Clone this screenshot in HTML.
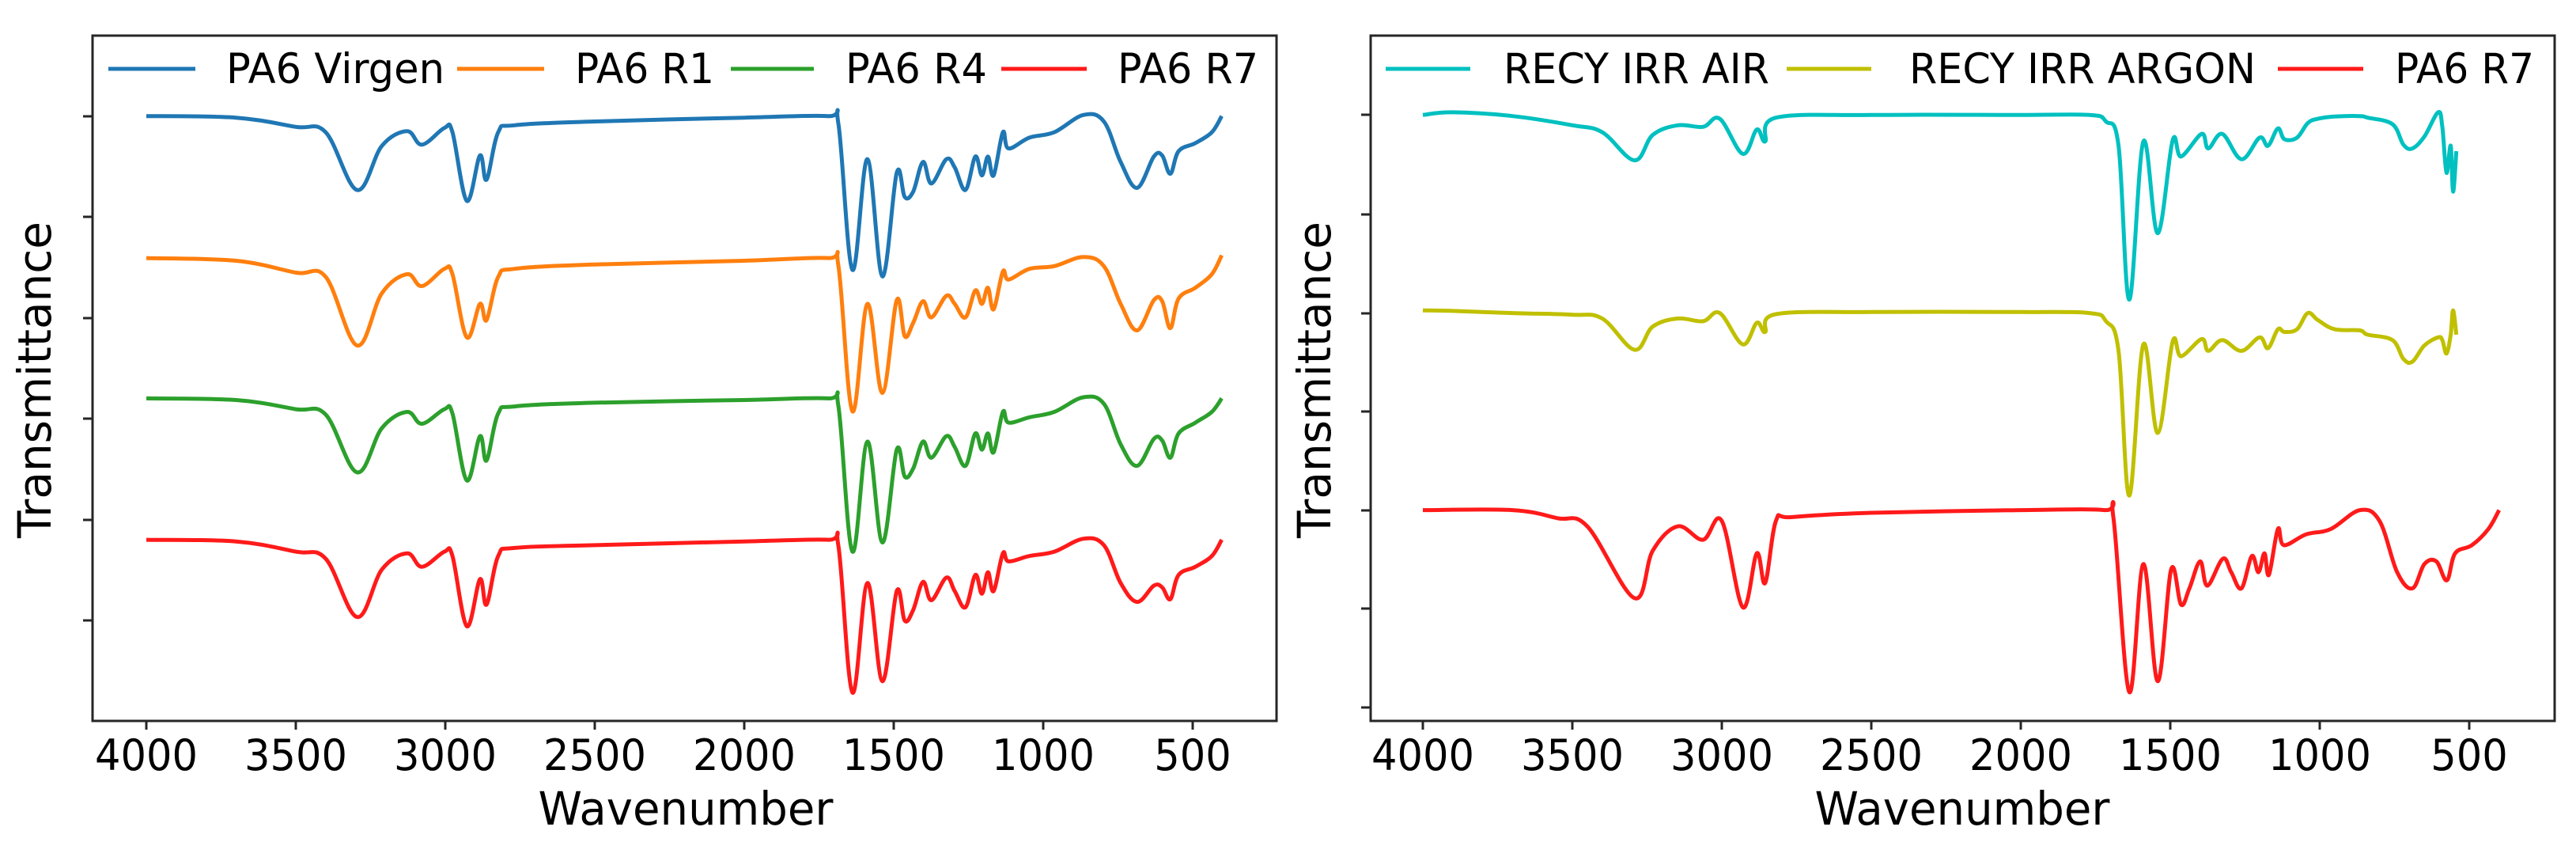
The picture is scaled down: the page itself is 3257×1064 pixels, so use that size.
<!DOCTYPE html>
<html><head><meta charset="utf-8"><style>
html,body{margin:0;padding:0;background:#fff;}
svg{display:block;}
text{font-family:"DejaVu Sans","Liberation Sans",sans-serif;fill:#000;}
</style></head><body>
<svg id="chart" width="3257" height="1064" viewBox="0 0 3257 1064" xmlns="http://www.w3.org/2000/svg"></svg>
<script>
// ---------- data ----------
const xTicks = [4000, 3500, 3000, 2500, 2000, 1500, 1000, 500];
const leftNames = ["PA6 Virgen", "PA6 R1", "PA6 R4", "PA6 R7"];
const rightNames = ["RECY IRR AIR", "RECY IRR ARGON", "PA6 R7"];
const leftWn = [4000,3700,3500,3400,3295,3212,3128,3078,3003,2976,2928,2884,2862,2823,2768,2500,2000,1720,1685,1638,1588,1538,1490,1463,1435,1402,1374,1324,1296,1260,1227,1205,1185,1166,1135,1116,1046,963,866,797,741,686,630,602,575,547,491,436,403];
const virgenAbs = [0,3,20,30,137,55,28,53,22,30,157,73,118,30,17,10,3,0,15,285,80,297,105,150,140,85,125,80,95,137,75,110,75,110,30,60,40,30,-2,10,85,133,75,73,107,65,50,30,0];
const r1Abs = [0,5,27,35,162,65,30,52,20,30,147,85,115,35,20,12,5,0,15,284,85,250,78,145,120,80,110,70,85,110,60,85,55,95,25,40,20,15,-2,15,85,134,78,80,130,75,55,30,-5];
const r4Abs = [0,3,20,30,137,55,25,47,20,28,152,70,115,28,15,8,3,0,15,284,80,267,95,145,130,80,110,70,90,125,65,95,65,100,25,45,35,25,-2,10,85,125,75,78,110,65,45,25,0];
const r7LeftAbs = [0,3,22,35,143,55,25,50,22,30,160,73,120,30,15,10,3,0,12,283,80,262,95,150,130,78,112,70,95,125,65,100,60,95,25,40,30,22,-2,10,80,115,85,88,110,65,50,30,0];
const leftOffsets = [0, 263, 523, 785];
const rightWn = [4000,3900,3700,3500,3400,3292,3231,3147,3063,3007,2930,2883,2855,2819,2500,2000,1770,1715,1673,1637,1590,1542,1492,1464,1395,1373,1326,1262,1201,1173,1140,1118,1076,1040,1006,950,866,840,757,720,690,650,604,590,576,562,554,543];
const airAbs = [0,-5,2,19,32,84,37,19,22,7,72,27,49,5,0,0,0,12,57,342,49,219,47,77,35,62,35,82,42,57,25,45,42,15,7,3,2,5,17,55,62,40,-5,22,107,57,142,67];
const argonAbs = [-3,-2,2,5,12,70,27,12,17,2,60,20,37,4,0,0,2,17,72,340,60,224,55,82,50,72,52,72,47,67,32,37,32,2,15,32,34,42,52,87,92,62,47,52,77,42,-3,42];
const r7RightWn = [4000,3700,3550,3450,3292,3231,3147,3063,3000,2930,2883,2855,2819,2768,2500,2000,1720,1690,1637,1590,1542,1497,1464,1436,1400,1376,1324,1296,1262,1227,1205,1185,1170,1140,1120,1046,963,866,800,741,690,650,610,575,547,491,436,400];
const r7RightAbs = [0,0,15,30,163,75,30,55,20,180,80,135,20,13,5,0,0,15,337,100,317,110,175,145,95,140,90,115,145,85,115,80,120,35,65,45,35,0,20,115,145,100,95,130,80,65,35,0];
const rightOffsets = [0, 365, 732];

// ---------- helpers ----------
const NS = "http://www.w3.org/2000/svg";
const svg = document.getElementById("chart");
function mk(tag, attrs, parent) {
  const e = document.createElementNS(NS, tag);
  for (const k in attrs) e.setAttribute(k, attrs[k]);
  (parent || svg).appendChild(e);
  return e;
}
function smoothPath(pts) {
  let d = "M" + pts[0][0].toFixed(1) + "," + pts[0][1].toFixed(1);
  const t = 0.35;
  for (let i = 0; i < pts.length - 1; i++) {
    const p0 = pts[Math.max(0, i - 1)], p1 = pts[i], p2 = pts[i + 1], p3 = pts[Math.min(pts.length - 1, i + 2)];
    const c1x = p1[0] + (p2[0] - p0[0]) * t / 2, c1y = p1[1] + (p2[1] - p0[1]) * t / 2;
    const c2x = p2[0] - (p3[0] - p1[0]) * t / 2, c2y = p2[1] - (p3[1] - p1[1]) * t / 2;
    d += "C" + c1x.toFixed(1) + "," + c1y.toFixed(1) + " " + c2x.toFixed(1) + "," + c2y.toFixed(1) + " " + p2[0].toFixed(1) + "," + p2[1].toFixed(1);
  }
  return d;
}
function panel(cfg) {
  const g = mk("g", {});
  
  
  const xS = wn => cfg.x4000 + (4000 - wn) * 0.378;
  const yS = v => (cfg.base - v) / 1.466; // v = -(abs + offset)
  cfg.series.forEach((s, i) => {
    const pts = s.wn.map((w, j) => [xS(w), yS(-(s.abs[j] + cfg.offsets[i]))]);
    const p = mk("path", {d: smoothPath(pts), fill: "none", stroke: s.color, "stroke-width": 5, "stroke-linejoin": "round"}, g);
    
    
  });
  const fr = mk("rect", {x: cfg.fx0, y: 45, width: cfg.fx1 - cfg.fx0, height: 911 - 45, fill: "none", stroke: "#262626", "stroke-width": 3}, g);
  
  
  cfg.yTicks.forEach(ty => {
    const t = mk("line", {x1: cfg.fx0 - 12, x2: cfg.fx0, y1: ty, y2: ty, stroke: "#262626", "stroke-width": 3}, g);
    
    
  });
  xTicks.forEach(v => {
    const x = xS(v);
    const t = mk("line", {x1: x, x2: x, y1: 911, y2: 922, stroke: "#262626", "stroke-width": 3}, g);
    
    
    const lab = mk("text", {x: x, y: 973, "text-anchor": "middle", "font-size": 54, textLength: String(v).length * 32.5, lengthAdjust: "spacingAndGlyphs"}, g);
    lab.textContent = v;
    
    
  });
  const xl = mk("text", {x: cfg.xlabelX, y: 1042, "text-anchor": "middle", "font-size": 58, textLength: 373, lengthAdjust: "spacingAndGlyphs"}, g);
  xl.textContent = "Wavenumber";
  
  
  const yl = mk("text", {x: 0, y: 0, "text-anchor": "middle", "font-size": 58, textLength: 400, lengthAdjust: "spacingAndGlyphs", transform: "translate(" + cfg.ylabelX + ",480) rotate(-90)"}, g);
  yl.textContent = "Transmittance";
  
  
  const lg = mk("g", {}, g);
  
  
  cfg.legend.forEach((e, i) => {
    const ent = mk("g", {}, lg);
    
    
    mk("line", {x1: e.l0, x2: e.l1, y1: 87, y2: 87, stroke: cfg.series[i].color, "stroke-width": 5}, ent);
    const t = mk("text", {x: e.t0, y: 105, "font-size": 53, textLength: e.t1 - e.t0, lengthAdjust: "spacingAndGlyphs"}, ent);
    t.textContent = cfg.names[i];
  });
}
panel({
  name: "left-panel", x4000: 185, base: 215, fx0: 117, fx1: 1614, xlabelX: 867, ylabelX: 64,
  offsets: leftOffsets, names: leftNames,
  yTicks: [147, 274, 402, 529, 657, 784],
  series: [
    {key: "pa6-virgen", color: "#1f77b4", wn: leftWn, abs: virgenAbs},
    {key: "pa6-r1", color: "#ff7f0e", wn: leftWn, abs: r1Abs},
    {key: "pa6-r4", color: "#2ca02c", wn: leftWn, abs: r4Abs},
    {key: "pa6-r7", color: "#ff1a1a", wn: leftWn, abs: r7LeftAbs}
  ],
  legend: [{l0:137,l1:247,t0:286,t1:562},{l0:578,l1:688,t0:727,t1:903},{l0:924,l1:1029,t0:1069,t1:1248},{l0:1266,l1:1374,t0:1413,t1:1591}]
});
panel({
  name: "right-panel", x4000: 1799, base: 213, fx0: 1733, fx1: 3230, xlabelX: 2481, ylabelX: 1682,
  offsets: rightOffsets, names: rightNames,
  yTicks: [145, 271, 396, 520, 645, 769, 894],
  series: [
    {key: "recy-irr-air", color: "#00c0c0", wn: rightWn, abs: airAbs},
    {key: "recy-irr-argon", color: "#c0c000", wn: rightWn, abs: argonAbs},
    {key: "pa6-r7", color: "#ff1a1a", wn: r7RightWn, abs: r7RightAbs}
  ],
  legend: [{l0:1752,l1:1859,t0:1901,t1:2237},{l0:2259,l1:2366,t0:2414,t1:2852},{l0:2880,l1:2988,t0:3028,t1:3204}]
});
</script>
</body></html>
